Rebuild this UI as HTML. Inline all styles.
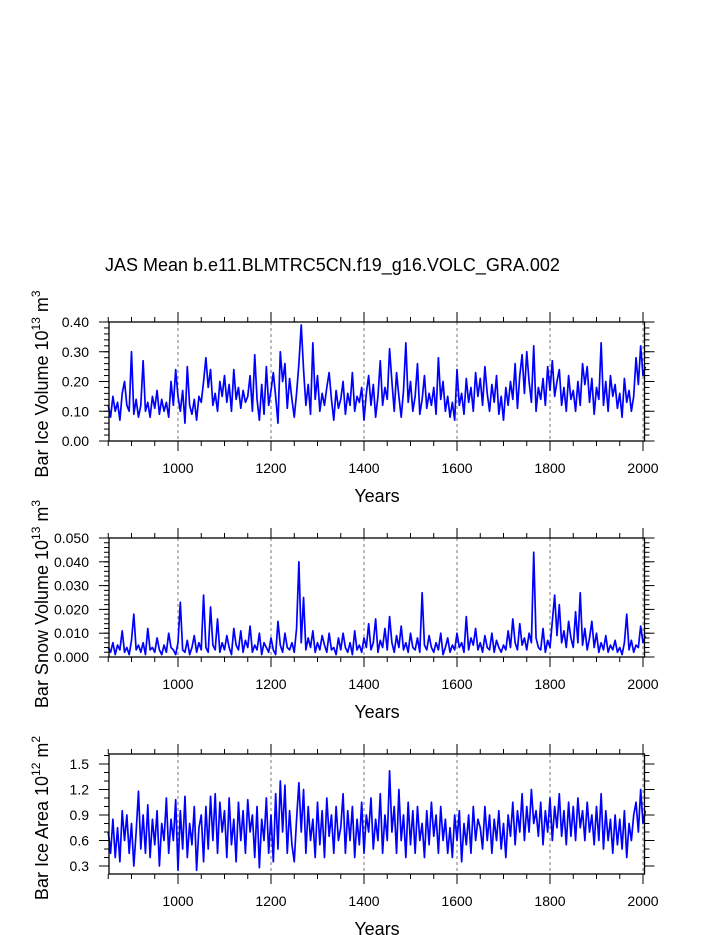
<!DOCTYPE html>
<html><head><meta charset="utf-8"><style>
body{margin:0;background:#fff;}
svg{display:block;font-family:"Liberation Sans",Arial,sans-serif;}
</style></head><body>
<svg id="chart" width="723" height="935" viewBox="0 0 723 935">
<text x="105" y="271" font-size="18">JAS Mean b.e11.BLMTRC5CN.f19_g16.VOLC_GRA.002</text>
</svg>
<script>
const startYear = 850;
const yearStep = 5;
const iceVolume = [
0.12,0.08,0.15,0.10,0.13,0.07,0.16,0.20,0.12,0.10,0.30,0.09,0.14,0.08,0.12,0.27,0.10,0.13,0.08,0.15,
0.11,0.17,0.09,0.14,0.10,0.13,0.08,0.20,0.12,0.24,0.15,0.10,0.17,0.06,0.25,0.12,0.09,0.14,0.07,0.15,
0.13,0.20,0.28,0.18,0.24,0.12,0.16,0.10,0.20,0.15,0.22,0.13,0.19,0.10,0.24,0.14,0.18,0.11,0.17,0.13,
0.15,0.22,0.10,0.29,0.14,0.07,0.19,0.09,0.25,0.12,0.17,0.23,0.15,0.06,0.30,0.20,0.26,0.11,0.21,0.14,
0.08,0.16,0.26,0.39,0.24,0.12,0.19,0.09,0.33,0.14,0.22,0.10,0.16,0.12,0.18,0.23,0.14,0.07,0.17,0.11,
0.14,0.20,0.09,0.16,0.12,0.23,0.10,0.15,0.13,0.18,0.07,0.16,0.22,0.12,0.19,0.08,0.15,0.27,0.12,0.18,
0.14,0.31,0.20,0.10,0.23,0.15,0.08,0.17,0.33,0.13,0.20,0.10,0.15,0.26,0.09,0.14,0.22,0.11,0.16,0.12,
0.18,0.09,0.28,0.14,0.20,0.10,0.15,0.08,0.13,0.07,0.24,0.12,0.16,0.09,0.21,0.13,0.18,0.10,0.23,0.15,
0.21,0.12,0.25,0.16,0.10,0.19,0.13,0.22,0.09,0.15,0.07,0.18,0.12,0.20,0.14,0.26,0.11,0.22,0.29,0.16,
0.30,0.20,0.13,0.32,0.10,0.18,0.14,0.21,0.12,0.25,0.17,0.27,0.15,0.20,0.24,0.12,0.18,0.10,0.22,0.14,
0.17,0.10,0.20,0.12,0.26,0.19,0.25,0.13,0.21,0.09,0.18,0.14,0.33,0.12,0.20,0.10,0.22,0.15,0.19,0.11,
0.16,0.08,0.21,0.13,0.17,0.10,0.15,0.28,0.19,0.32,0.22,0.25];
const snowVolume = [
0.004,0.002,0.006,0.001,0.005,0.003,0.011,0.002,0.004,0.001,0.007,0.018,0.003,0.005,0.002,0.006,0.001,0.012,0.003,0.004,
0.002,0.008,0.003,0.001,0.005,0.002,0.010,0.004,0.003,0.001,0.006,0.023,0.003,0.002,0.007,0.001,0.004,0.009,0.002,0.006,
0.003,0.026,0.004,0.002,0.021,0.005,0.003,0.016,0.002,0.006,0.003,0.009,0.004,0.001,0.012,0.005,0.003,0.011,0.002,0.007,
0.004,0.013,0.002,0.005,0.003,0.010,0.001,0.006,0.004,0.002,0.008,0.003,0.001,0.015,0.005,0.002,0.010,0.004,0.003,0.006,
0.002,0.012,0.040,0.006,0.025,0.003,0.008,0.004,0.011,0.002,0.006,0.003,0.009,0.005,0.002,0.010,0.003,0.004,0.001,0.008,
0.003,0.010,0.004,0.002,0.006,0.001,0.011,0.003,0.005,0.002,0.008,0.004,0.014,0.003,0.006,0.016,0.002,0.007,0.004,0.012,
0.003,0.017,0.006,0.002,0.009,0.004,0.013,0.003,0.006,0.002,0.010,0.004,0.003,0.008,0.002,0.027,0.005,0.003,0.009,0.004,
0.002,0.006,0.003,0.010,0.001,0.004,0.008,0.002,0.005,0.003,0.010,0.004,0.006,0.002,0.017,0.003,0.008,0.005,0.012,0.003,
0.006,0.002,0.009,0.004,0.003,0.010,0.002,0.007,0.004,0.002,0.005,0.003,0.011,0.004,0.016,0.006,0.003,0.014,0.005,0.008,
0.003,0.010,0.006,0.044,0.008,0.004,0.003,0.012,0.002,0.007,0.004,0.015,0.026,0.009,0.022,0.006,0.011,0.004,0.015,0.008,
0.004,0.019,0.006,0.027,0.005,0.012,0.003,0.008,0.015,0.004,0.010,0.002,0.006,0.003,0.009,0.002,0.005,0.003,0.007,0.002,
0.004,0.001,0.006,0.018,0.003,0.007,0.002,0.005,0.004,0.013,0.006,0.009];
const iceArea = [
0.70,0.45,0.85,0.40,0.75,0.35,0.95,0.60,0.90,0.45,0.80,0.30,0.70,1.18,0.50,0.90,0.45,1.02,0.40,0.85,
0.55,0.95,0.30,0.80,0.60,1.10,0.45,0.85,0.60,1.08,0.25,0.95,0.50,1.12,0.40,0.80,0.55,1.00,0.25,0.75,
0.90,0.35,1.00,0.50,1.12,0.60,1.15,0.45,1.05,0.70,0.95,0.40,1.10,0.55,0.85,0.35,1.05,0.60,0.95,0.45,
1.08,0.70,0.90,0.40,1.00,0.28,0.85,0.60,1.10,0.45,0.90,0.35,1.15,0.50,1.30,0.70,1.25,0.45,0.95,0.55,
0.35,0.85,1.28,0.70,1.20,0.45,1.00,0.60,0.85,0.40,1.05,0.55,0.95,0.40,1.10,0.65,0.90,0.45,1.00,0.60,
0.75,1.15,0.45,0.95,0.60,1.00,0.40,0.85,0.55,1.05,0.45,0.90,0.70,1.10,0.50,0.85,0.60,1.15,0.45,0.90,
0.60,1.42,0.70,1.00,0.45,1.20,0.60,0.90,0.40,1.05,0.55,0.95,0.45,1.00,0.60,0.80,0.40,0.95,0.55,1.05,
0.65,0.90,0.45,1.00,0.60,0.85,0.45,0.75,0.40,0.90,0.60,0.95,0.35,0.80,0.55,0.90,0.45,1.00,0.60,0.85,
0.75,0.50,1.00,0.60,0.90,0.45,0.85,0.60,0.95,0.50,0.80,0.40,0.90,0.65,1.05,0.55,0.95,0.70,1.15,0.60,
1.00,0.70,1.20,0.80,0.95,0.65,1.05,0.55,0.95,0.70,1.10,0.60,1.00,0.75,1.15,0.65,0.95,0.55,1.05,0.65,
1.00,0.60,1.10,0.75,0.95,0.60,1.05,0.70,0.90,0.55,1.00,0.60,1.15,0.50,0.95,0.60,0.85,0.45,0.90,0.55,
0.85,0.50,0.95,0.40,0.80,0.60,0.90,1.05,0.70,1.20,0.80,0.95];
const xTickYears = [1000,1200,1400,1600,1800,2000];
const volTicks = ["0.00","0.10","0.20","0.30","0.40"];
const snowTicks = ["0.000","0.010","0.020","0.030","0.040","0.050"];
const areaTicks = ["0.3","0.6","0.9","1.2","1.5"];

const NS = "http://www.w3.org/2000/svg";
const svg = document.getElementById('chart');
const L = 109, R = 644.5;
function xs(yr){ return 178 + (yr-1000)*0.465; }
function mk(tag, attrs, parent){ const e=document.createElementNS(NS,tag); for(const k in attrs) e.setAttribute(k,attrs[k]); (parent||svg).appendChild(e); return e; }

const panels = [
 {name:'ice-volume', data:iceVolume, ticks:volTicks, top:322, bot:441, ymin:0, ymax:0.40, minor:0.02, lab:['Bar Ice Volume 10','13',' m','3'], labC:384},
 {name:'snow-volume', data:snowVolume, ticks:snowTicks, top:538, bot:657, ymin:0, ymax:0.050, minor:0.002, lab:['Bar Snow Volume 10','13',' m','3'], labC:604},
 {name:'ice-area', data:iceArea, ticks:areaTicks, top:754, bot:874, ymin:0.3-8/85, ymax:1.5+10/85, minor:0.1, lab:['Bar Ice Area 10','12',' m','2'], labC:818}
];

panels.forEach(p=>{
  const g = mk('g',{});
  
  
  const ys = v => p.bot - (v-p.ymin)/(p.ymax-p.ymin)*(p.bot-p.top);
  xTickYears.forEach(yr=>{
    const l = mk('line',{x1:xs(yr),x2:xs(yr),y1:p.top,y2:p.bot,stroke:'#777','stroke-width':1,'stroke-dasharray':'3,3'},g);
    
    
  });
  const pts = p.data.map((v,i)=> xs(startYear+i*yearStep).toFixed(2)+','+ys(v).toFixed(2)).join(' ');
  const pl = mk('polyline',{points:pts,fill:'none',stroke:'#0000ff','stroke-width':1.7,'stroke-linejoin':'round'},g);
  
  
  const fr = mk('rect',{x:L,y:p.top,width:R-L,height:p.bot-p.top,fill:'none',stroke:'#000','stroke-width':1.3},g);
  
  
  for(let yr=850; yr<=2000; yr+=50){
    const maj = yr%200===0;
    const len = maj?10:5, x=xs(yr);
    mk('line',{x1:x,x2:x,y1:p.bot,y2:p.bot+len,stroke:'#000','stroke-width':1},g);
    mk('line',{x1:x,x2:x,y1:p.top,y2:p.top-len,stroke:'#000','stroke-width':1},g);
  }
  xTickYears.forEach(yr=>{
    const t = mk('text',{x:xs(yr),y:p.bot+32,'font-size':14,'text-anchor':'middle'},g);
    t.textContent = yr;
    
    
  });
  const xt = mk('text',{x:377,y:p.bot+61,'font-size':18,'text-anchor':'middle'},g);
  xt.textContent='Years';
  
  
  const n = Math.round((p.ymax-p.ymin)/p.minor)+2;
  const start = Math.ceil(p.ymin/p.minor-1e-6)*p.minor;
  for(let k=0;k<n;k++){
    const v = start + k*p.minor; if(v>p.ymax+1e-9) break;
    const y = ys(v);
    mk('line',{x1:L-5,x2:L,y1:y,y2:y,stroke:'#000','stroke-width':1},g);
    mk('line',{x1:R,x2:R+5,y1:y,y2:y,stroke:'#000','stroke-width':1},g);
  }
  p.ticks.forEach(s=>{
    const v = parseFloat(s), y = ys(v);
    mk('line',{x1:L-10,x2:L,y1:y,y2:y,stroke:'#000','stroke-width':1},g);
    mk('line',{x1:R,x2:R+10,y1:y,y2:y,stroke:'#000','stroke-width':1},g);
    const t = mk('text',{x:L-20,y:y+5,'font-size':14,'text-anchor':'end'},g);
    t.textContent = s;
    
    
  });
  const yt = mk('text',{x:0,y:0,'font-size':18,'text-anchor':'middle',transform:'translate(48,'+p.labC+') rotate(-90)'},g);
  
  
  const parts = [[p.lab[0],0],[p.lab[1],1],[p.lab[2],0],[p.lab[3],1]];
  parts.forEach(([s,sup])=>{
    const ts = mk('tspan',{},yt);
    ts.textContent = s;
    if(sup){ ts.setAttribute('font-size','12'); ts.setAttribute('dy','-8'); }
    else if(s!==p.lab[0]){ ts.setAttribute('dy','8'); }
  });
});
</script>
</body></html>
